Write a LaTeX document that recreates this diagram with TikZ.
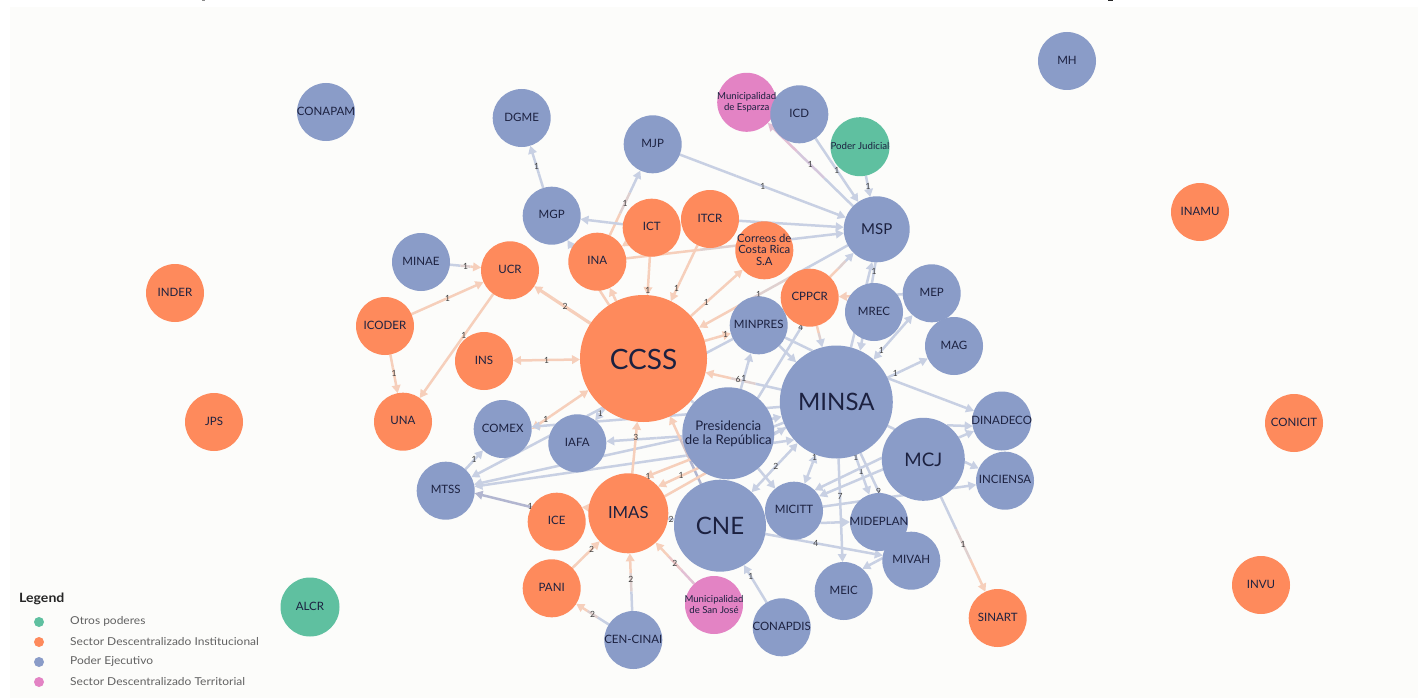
\documentclass[tikz,border=0pt]{standalone}
\usepackage{fontspec}
\setmainfont{Lato}
\newfontfamily\legfont[FakeStretch=1.1]{Lato}
\usetikzlibrary{arrows.meta}
\definecolor{nblue}{HTML}{8A9CC8}
\definecolor{norange}{HTML}{FE8A5C}
\definecolor{ngreen}{HTML}{5FC0A0}
\definecolor{npink}{HTML}{E383C4}
\definecolor{eb}{HTML}{C8D0E3}
\definecolor{eo}{HTML}{F6CFBB}
\definecolor{ed}{HTML}{B2B6D0}
\definecolor{ep}{HTML}{E2BFD4}
\definecolor{paper}{HTML}{FCFCFA}
\definecolor{ink}{HTML}{1C2140}
\newcommand\FS[2]{\fontsize{#1}{#2}\selectfont}
\newcommand\nt[1]{\smash{\makebox[0pt][c]{\raisebox{-.33em}{\begin{tabular}[c]{@{}c@{}}#1\end{tabular}}}}}
\pgfdeclarelayer{edges}
\pgfsetlayers{edges,main}
\tikzset{
  x=1pt,y=-1pt,
  nd/.style={circle,draw=none,inner sep=0pt,outer sep=0pt,text=ink},
  nb/.style={nd,fill=nblue},
  no/.style={nd,fill=norange},
  ng/.style={nd,fill=ngreen},
  np/.style={nd,fill=npink},
  dia/.style={minimum size=#1pt},
  fz/.style={font=\FS{#1}{12}},
  elink/.style={line width=2.5pt},
  endtip/.style={-{Triangle[length=8pt,width=8.5pt]}},
  starttip/.style={{Triangle[length=8pt,width=8.5pt]}-},
  elab/.style={font=\FS{8.5}{9},text=black!75,inner sep=0pt},
  legdot/.style={circle,draw=none,inner sep=0pt,minimum size=10pt},
  legtxt/.style={anchor=west,inner sep=0pt,font=\legfont\FS{10.9}{12},text=black!62},
}
% \lnk[opts]{from}{to}{colour A}{colour B}{label}{pos}
\newcommand\seglnk[5]{%
  \path (#2) -- (#3) coordinate[pos=.34] (la) coordinate[pos=.66] (lb);
  \draw[elink,#4,#1] (#2) -- (la);
  \draw[elink,#4!50!#5,#1] (la) -- (lb);
}
\newcommand\lbl[4]{\if\relax\detokenize{#3}\relax\else\path (#1) -- (#2) node[elab,pos=#4] {#3};\fi}
\newcommand\lnk[7][]{%
  \seglnk{#1}{#2}{#3}{#4}{#5}%
  \draw[elink,#5,endtip,#1] (lb) -- (#3);
  \lbl{#2}{#3}{#6}{#7}}
\newcommand\dlnk[7][]{%
  \path (#2) -- (#3) coordinate[pos=.34] (la) coordinate[pos=.66] (lb);
  \draw[elink,#4,#1] (la) -- (lb);
  \draw[elink,#4,starttip,#1] (#2) -- (la);
  \draw[elink,#5,endtip,#1] (lb) -- (#3);
  \lbl{#2}{#3}{#6}{#7}}
\begin{document}
\begin{tikzpicture}
\useasboundingbox (0,0) rectangle (1418,698);
\begin{pgfonlayer}{edges}
\fill[white] (0,0) rectangle (1418,698);
\fill[paper] (10,7) rectangle (1418,698);
\fill[black!45] (202,0) rectangle (204.5,1);
\fill[black!85] (1108,0) rectangle (1113,1.5);
\end{pgfonlayer}

% nodes
\node[np,dia=59] (Esparza) at (746.7,102.3) {};
\node[nb,dia=58,fz=11.5] (ICD) at (799.3,114.3) {\nt{ICD}};
\node[nb,dia=58,fz=11.5] (MH) at (1067,61) {\nt{MH}};
\node[nb,dia=58,fz=11.5] (CONAPAM) at (326,112) {\nt{CONAPAM}};
\node[nb,dia=58,fz=11.5] (DGME) at (521.7,118) {\nt{DGME}};
\node[nb,dia=58,fz=11.5] (MJP) at (652.7,144.3) {\nt{MJP}};
\node[nb,dia=58,fz=11.5] (MGP) at (551.7,215.7) {\nt{MGP}};
\node[ng,dia=59,fz=9.7] (PJ) at (860,146.7) {\nt{Poder Judicial}};
\node[no,dia=58,fz=11.5] (ICT) at (651.7,227.7) {\nt{ICT}};
\node[no,dia=58,fz=11.5] (ITCR) at (710,219) {\nt{ITCR}};
\node[no,dia=58,fz=11.5] (INA) at (597.3,261.7) {\nt{INA}};
\node[no,dia=58,fz=11.5] (UCR) at (510,270.3) {\nt{UCR}};
\node[nb,dia=58,fz=11.5] (MINAE) at (421,262) {\nt{MINAE}};
\node[no,dia=58,fz=11.5] (ICODER) at (385,326) {\nt{ICODER}};
\node[no,dia=58,fz=11.5] (INDER) at (175,293) {\nt{INDER}};
\node[no,dia=58,fz=11.5] (JPS) at (214,422) {\nt{JPS}};
\node[no,dia=58,fz=11.5] (INAMU) at (1200,212) {\nt{INAMU}};
\node[no,dia=58,fz=11.5] (CONICIT) at (1294,423) {\nt{CONICIT}};
\node[no,dia=58,fz=11.5] (INVU) at (1261,585) {\nt{INVU}};
\node[ng,dia=59,fz=11.5] (ALCR) at (310,607) {\nt{ALCR}};
\node[no,dia=127,fz=28] (CCSS) at (643.5,358.5) {\nt{CCSS}};
\node[no,dia=58,fz=11.5] (INS) at (484,361) {\nt{INS}};
\node[no,dia=58,fz=11.5] (UNA) at (403,421.7) {\nt{UNA}};
\node[nb,dia=66,fz=15] (MSP) at (876.7,229.3) {\nt{MSP}};
\node[no,dia=58] (Correos) at (764.3,250.3) {};
\node[no,dia=58,fz=11.5] (CPPCR) at (809.7,297.7) {\nt{CPPCR}};
\node[nb,dia=58,fz=11.5] (MREC) at (874,312) {\nt{MREC}};
\node[nb,dia=58,fz=11.5] (MEP) at (931.7,293.3) {\nt{MEP}};
\node[nb,dia=58,fz=11.5] (MAG) at (954,346) {\nt{MAG}};
\node[nb,dia=58,fz=11.5] (MINPRES) at (758.7,325.3) {\nt{MINPRES}};
\node[nb,dia=58,fz=11.5] (COMEX) at (502.7,429) {\nt{COMEX}};
\node[nb,dia=58,fz=11.5] (IAFA) at (577.3,443.3) {\nt{IAFA}};
\node[nb,dia=58,fz=11.5] (MTSS) at (445.7,490.7) {\nt{MTSS}};
\node[no,dia=58,fz=11.5] (ICE) at (556.7,521.7) {\nt{ICE}};
\node[no,dia=80,fz=16.7] (IMAS) at (628.3,513.3) {\nt{IMAS}};
\node[no,dia=58,fz=11.5] (PANI) at (551.7,588.3) {\nt{PANI}};
\node[nb,dia=58,fz=11.5] (CENCINAI) at (633.3,640) {\nt{CEN-CINAI}};
\node[np,dia=58] (SanJose) at (714,605) {};
\node[nb,dia=92,fz=24] (CNE) at (720,525.7) {\nt{CNE}};
\node[nb,dia=92] (Presidencia) at (728.3,433.3) {};
\node[nb,dia=113,fz=24] (MINSA) at (836.3,402) {\nt{MINSA}};
\node[nb,dia=83,fz=18.7] (MCJ) at (923.3,459.3) {\nt{MCJ}};
\node[nb,dia=59,fz=11.5] (DINADECO) at (1001.7,421) {\nt{DINADECO}};
\node[nb,dia=58,fz=11.5] (INCIENSA) at (1005,480.7) {\nt{INCIENSA}};
\node[nb,dia=58,fz=11.5] (MICITT) at (794,510.7) {\nt{MICITT}};
\node[nb,dia=58,fz=11.5] (MIDEPLAN) at (879,522) {\nt{MIDEPLAN}};
\node[nb,dia=58,fz=11.5] (MIVAH) at (911.3,560.7) {\nt{MIVAH}};
\node[nb,dia=58,fz=11.5] (MEIC) at (843.7,591) {\nt{MEIC}};
\node[nb,dia=58,fz=11.5] (CONAPDIS) at (781.7,627.3) {\nt{CONAPDIS}};
\node[no,dia=58,fz=11.5] (SINART) at (997.7,618) {\nt{SINART}};
% multi-line labels drawn last so that they sit on top
\node[inner sep=0pt,text=ink,font=\FS{9.6}{10.5}] (EsparzaT) at (746.7,102.3) {\nt{Municipalidad\\de Esparza}};
\node[inner sep=0pt,text=ink,font=\FS{9.6}{10.5}] (SanJoseT) at (714,605) {\nt{Municipalidad\\de San José}};
\node[inner sep=0pt,text=ink,font=\FS{11.3}{11.5}] (CorreosT) at (764.3,250.3) {\nt{Correos de\\Costa Rica\\S.A}};
\node[inner sep=0pt,text=ink,font=\FS{13.2}{14}] (PresidenciaT) at (728.3,433.3) {\nt{Presidencia\\de la República}};

% connectors
\begin{pgfonlayer}{edges}
\lnk{MGP}{DGME}{eb}{eb}{1}{.5}
\lnk{INA}{MJP}{eo}{eb}{1}{.5}
\lnk{ICT}{MGP}{eb}{eb}{}{.5}
\lnk{CCSS}{MGP}{eo}{eb}{}{.5}
\lnk{CCSS}{INA}{eo}{eo}{}{.5}
\lnk{ICT}{INA}{eo}{eo}{}{.5}
\lnk{INA}{MSP}{eo}{eb}{}{.5}
\lnk{ICT}{CCSS}{eo}{eo}{1}{.88}
\lnk{ITCR}{CCSS}{eo}{eo}{1}{.78}
\lnk{CCSS}{Correos}{eo}{eo}{1}{.3}
\lnk{MSP}{CCSS}{eb}{eo}{1}{.6}
\lnk{CCSS}{MINPRES}{eo}{eo}{1}{.8}
\lnk{CCSS}{IAFA}{eb}{eb}{1}{.45}
\lnk[line width=3.2pt]{CCSS}{UCR}{eo}{eo}{2}{.45}
\lnk{MINAE}{UCR}{eb}{eo}{1}{.5}
\lnk{ICODER}{UCR}{eo}{eo}{1}{.5}
\lnk{ICODER}{UNA}{eo}{eo}{1}{.5}
\lnk{UCR}{UNA}{eo}{eo}{1}{.4}
\dlnk{INS}{CCSS}{eo}{eo}{1}{.5}
\dlnk{COMEX.0}{CCSS.210}{eo}{eo}{1}{.25}
\lnk{MTSS}{COMEX}{eb}{eb}{1}{.5}
\lnk{MINPRES}{MTSS}{eb}{eb}{}{.5}
\dlnk{MINSA.195}{MTSS}{eb}{eb}{}{.5}
\dlnk{MINSA.222}{MTSS}{eb}{eb}{}{.5}
\lnk{MINSA.185}{COMEX}{eb}{eb}{1}{.88}
\lnk{Presidencia}{IAFA}{eb}{eb}{}{.5}
\lnk{IMAS}{CCSS}{eo}{eo}{3}{.7}
\lnk{CNE}{CCSS}{ed}{eo}{}{.5}
\lnk[arrows=-]{Presidencia}{CCSS}{eb}{eb}{}{.5}
\lnk{IMAS.25}{MINSA.207}{eo}{eb}{}{.5}
\lnk{MINSA.207}{IMAS.42}{eb}{eo}{1}{.82}
\lnk{MINSA}{IMAS.65}{eb}{eo}{1}{.98}
\lnk[arrows=-]{CNE}{IMAS}{eb}{eb}{2}{.5}
\lnk{IMAS.172}{ICE.30}{eo}{eo}{}{.5}
\lnk[color=ed]{ICE.150}{MTSS.-5}{ed}{ed}{1}{.02}
\lnk{PANI}{IMAS}{eo}{eo}{2}{.7}
\lnk{CENCINAI}{PANI}{eb}{eo}{2}{.5}
\lnk{CENCINAI}{IMAS}{eb}{eo}{2}{.55}
\lnk{SanJose}{IMAS}{ep}{eo}{2}{.5}
\lnk{CONAPDIS}{CNE}{eb}{eb}{1}{.7}
\lnk{MINSA}{MEIC}{eb}{eb}{7}{.37}
\dlnk{MINSA}{MICITT}{eb}{eb}{1}{.1}
\lnk{Presidencia}{MICITT}{eb}{eb}{}{.5}
\dlnk{CNE}{MINSA}{eb}{eb}{2}{.53}
\lnk{MINSA}{MIDEPLAN}{eb}{eb}{1}{.42}
\lbl{MINSA}{MIDEPLAN}{1}{.05}
\lnk{MINSA}{MIVAH}{eb}{eb}{9}{.47}
\lnk{MCJ.178}{MICITT.45}{eb}{eb}{}{.5}
\dlnk{MICITT.30}{DINADECO.200}{eb}{eb}{}{.5}
\lnk{MICITT}{INCIENSA}{eb}{eb}{}{.5}
\lnk{MCJ.55}{DINADECO.190}{eb}{eb}{}{.5}
\lnk{MINSA}{INCIENSA}{eb}{eb}{}{.5}
\lnk{MINSA.25}{DINADECO.160}{eb}{eb}{}{.5}
\lnk{MINSA}{MAG}{eb}{eb}{1}{.2}
\dlnk{MINSA}{MEP}{eb}{eb}{1}{.2}
\lnk{MEP}{CPPCR}{eb}{eo}{}{.5}
\lnk{MINSA.75}{MSP.262}{eb}{eb}{}{.5}
\lnk{MSP.268}{MINSA.65}{eb}{eb}{1}{.1}
\lnk{CPPCR}{MSP}{eo}{eb}{}{.5}
\lnk{CPPCR}{MINSA}{eo}{eb}{}{.5}
\lnk{MINPRES}{MINSA}{eb}{eb}{}{.5}
\lnk[arrows=-]{MINPRES.-25}{MINSA.115}{eb}{eb}{}{.5}
\lnk[arrows=-]{Presidencia.50}{CPPCR.255}{eb}{eb}{4}{.97}
\lnk{MINSA}{CCSS}{eb}{eo}{6}{.57}
\lnk{Presidencia}{MINPRES}{eb}{eb}{1}{.3}
\lnk{MICITT.-25}{MIDEPLAN.180}{eb}{eb}{}{.5}
\lnk{CNE}{MIVAH}{eb}{eb}{4}{.43}
\lnk{MIVAH.175}{MEIC.50}{eb}{eb}{}{.5}
\lnk{MCJ}{SINART}{eb}{eo}{1}{.5}
\lnk{MJP}{MSP}{eb}{eb}{1}{.5}
\lnk{ICD}{MSP}{eb}{eb}{1}{.5}
\lnk{MSP}{Esparza}{eb}{ep}{1}{.5}
\lnk{PJ}{MSP}{eb}{eb}{1}{.5}
\lnk{ITCR}{MSP}{eb}{eb}{}{.5}
\end{pgfonlayer}

% legend
\node[anchor=west,inner sep=0pt,font=\legfont\FS{12.8}{13}\bfseries,text=black!85] (LegT) at (19,599) {Legend};
\node[legdot,fill=ngreen] (L1) at (39,622) {};
\node[legdot,fill=norange] (L2) at (39,642) {};
\node[legdot,fill=nblue] (L3) at (39,662) {};
\node[legdot,fill=npink] (L4) at (39,682) {};
\node[legtxt] (L1T) at (70,621.5) {Otros poderes};
\node[legtxt] (L2T) at (70,641.5) {Sector Descentralizado Institucional};
\node[legtxt] (L3T) at (70,661.5) {Poder Ejecutivo};
\node[legtxt] (L4T) at (70,681.5) {Sector Descentralizado Territorial};
\end{tikzpicture}
\end{document}
